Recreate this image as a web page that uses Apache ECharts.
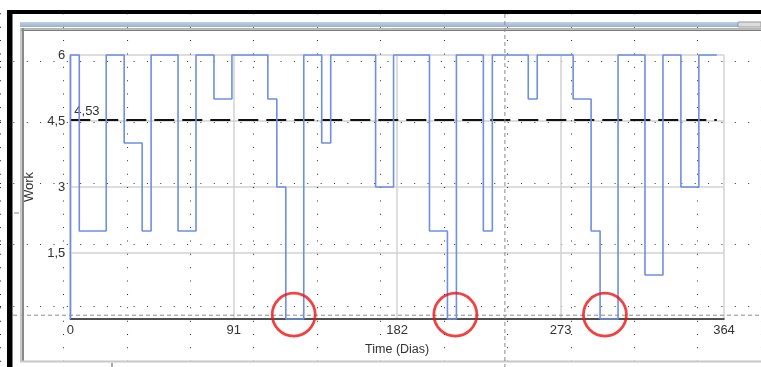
<!DOCTYPE html>
<html>
<head>
<meta charset="utf-8">
<script src="https://cdn.jsdelivr.net/npm/echarts@6/dist/echarts.min.js"></script>
<style>
html,body{margin:0;padding:0;background:#fff;}
#c{width:761px;height:367px;}
</style>
</head>
<body>
<div id="c"></div>
<script>
// ---- data ----
const days = [0, 0, 5, 20, 30, 40, 45, 60, 70, 80, 90, 110, 115, 120, 130, 140, 145, 170, 180, 200, 210, 215, 230, 235, 255, 260, 280, 290, 295, 305, 320, 330, 340, 350, 360];
const work = [0, 6, 2, 6, 4, 2, 6, 2, 6, 5, 6, 5, 3, 0, 6, 4, 6, 3, 6, 2, 0, 6, 2, 6, 5, 6, 5, 2, 0, 6, 1, 6, 3, 6, 6];
const xTicks = [0, 91, 182, 273, 364];
const yTicks = ['0', '1,5', '3', '4,5', '6'];
const thresholdValue = 4.53;
const thresholdLabel = '4,53';
const circleDays = [124.4, 214.4, 297.7];
const circleWork = [0.1, 0.1, 0.1];
const xName = 'Time (Dias)';
const yName = 'Work';

const FONT = "'Liberation Sans', Arial, sans-serif";
const lineData = days.map((d, i) => [d, work[i]]);
const circleData = circleDays.map((d, i) => [d, circleWork[i]]);
const lastDay = days[days.length - 1];

const chart = echarts.init(document.getElementById('c'), null, {renderer: 'canvas'});

const dotStyle = {color: '#333', width: 1.1, type: [1, 12.36]};

const option = {
  backgroundColor: '#fff',
  animation: false,
  grid: [
    {left: 70.3, right: 37, top: 55, bottom: 48, containLabel: false},
    {left: -29.5, top: -18.8, width: 801.6, height: 400.8, containLabel: false}
  ],
  xAxis: [
    {
      gridIndex: 0, type: 'value', min: xTicks[0], max: xTicks[xTicks.length - 1], interval: xTicks[1] - xTicks[0],
      axisLine: {show: true, onZero: false, lineStyle: {color: '#222', width: 1.5}},
      axisTick: {show: false},
      axisLabel: {color: '#333', fontFamily: FONT, fontSize: 13, margin: 5},
      splitLine: {show: true, lineStyle: {color: '#d2d2d2', width: 1.5}},
      name: xName, nameLocation: 'middle', nameGap: 24,
      nameTextStyle: {color: '#333', fontFamily: FONT, fontSize: 12.5}
    },
    {
      gridIndex: 1, type: 'value', min: 0, max: 12, interval: 1,
      axisLine: {show: false}, axisTick: {show: false}, axisLabel: {show: false},
      splitLine: {show: true, lineStyle: dotStyle}
    }
  ],
  yAxis: [
    {
      gridIndex: 0, type: 'value', min: 0, max: 6, interval: 1.5,
      axisLine: {show: false}, axisTick: {show: false},
      axisLabel: {
        color: '#333', fontFamily: FONT, fontSize: 13, margin: 5,
        formatter: v => { const i = Math.round(v / 1.5); return i === 0 ? '' : yTicks[i]; }
      },
      splitLine: {show: true, lineStyle: {color: '#d2d2d2', width: 1.5}},
      name: yName, nameLocation: 'middle', nameGap: 34, nameRotate: 90,
      nameTextStyle: {color: '#333', fontFamily: FONT, fontSize: 13}
    },
    {
      gridIndex: 1, type: 'value', min: 0, max: 6, interval: 1,
      axisLine: {show: false}, axisTick: {show: false}, axisLabel: {show: false},
      splitLine: {show: true, lineStyle: dotStyle}
    }
  ],
  series: [
    {
      type: 'line', xAxisIndex: 0, yAxisIndex: 0, step: 'end', clip: false,
      data: lineData, showSymbol: false, symbol: 'none',
      lineStyle: {color: '#6d8fe4', width: 1.6},
      z: 5,
      markLine: {
        silent: true, symbol: 'none',
        lineStyle: {color: '#111', width: 1.8, type: [20, 8]},
        label: {
          show: true, position: 'insideStartTop', formatter: thresholdLabel,
          color: '#333', fontFamily: FONT, fontSize: 13, distance: [4, 2]
        },
        data: [[{coord: [0, thresholdValue]}, {coord: [lastDay, thresholdValue]}]]
      }
    },
    {
      type: 'scatter', xAxisIndex: 0, yAxisIndex: 0, clip: false,
      data: circleData, symbol: 'circle', symbolSize: 43,
      itemStyle: {color: 'rgba(0,0,0,0)', borderColor: '#ee1111', borderWidth: 2.8},
      z: 6
    }
  ],
  graphic: [
    {type: 'rect', shape: {x: 0, y: 0, width: 761, height: 10}, style: {fill: '#fff'}, z: 100},
    {type: 'rect', shape: {x: 7, y: 10, width: 754, height: 4}, style: {fill: '#000'}, z: 101},
    {type: 'rect', shape: {x: 7, y: 10, width: 5.5, height: 357}, style: {fill: '#000'}, z: 101},
    {type: 'rect', shape: {x: 20, y: 22, width: 718, height: 5},
      style: {fill: new echarts.graphic.LinearGradient(0, 0, 0, 1, [{offset: 0, color: '#c2d2e4'}, {offset: 1, color: '#98b1cd'}])}, z: 101},
    {type: 'rect', shape: {x: 738, y: 22, width: 23, height: 5}, style: {fill: '#dcdcdc', stroke: '#9a9a9a', lineWidth: 1}, z: 101},
    {type: 'line', shape: {x1: 20, y1: 28.5, x2: 761, y2: 28.5}, style: {stroke: '#b4b4b4', lineWidth: 1}, z: 101},
    {type: 'line', shape: {x1: 20, y1: 30.2, x2: 761, y2: 30.2}, style: {stroke: '#7c7c7c', lineWidth: 1.5}, z: 101},
    {type: 'rect', shape: {x: 20, y: 28, width: 1.6, height: 334}, style: {fill: '#c4c4c4'}, z: 101},
    {type: 'rect', shape: {x: 21.8, y: 28, width: 2.2, height: 334}, style: {fill: '#8a8a8a'}, z: 101},
    {type: 'rect', shape: {x: 20, y: 360.5, width: 741, height: 2}, style: {fill: '#c8c8c8'}, z: 101},
    {type: 'line', shape: {x1: 13, y1: 315.2, x2: 761, y2: 315.2}, style: {stroke: '#8a8a8a', lineWidth: 1, lineDash: [4, 3]}, z: 3},
    {type: 'line', shape: {x1: 504.9, y1: 14, x2: 504.9, y2: 367}, style: {stroke: '#8a8a8a', lineWidth: 1, lineDash: [4, 3]}, z: 102},
    {type: 'line', shape: {x1: 14, y1: 213, x2: 19, y2: 213}, style: {stroke: '#888', lineWidth: 1}, z: 102},
    {type: 'line', shape: {x1: 112, y1: 363, x2: 112, y2: 367}, style: {stroke: '#555', lineWidth: 1}, z: 102}
  ]
};
chart.setOption(option);
</script>
</body>
</html>
